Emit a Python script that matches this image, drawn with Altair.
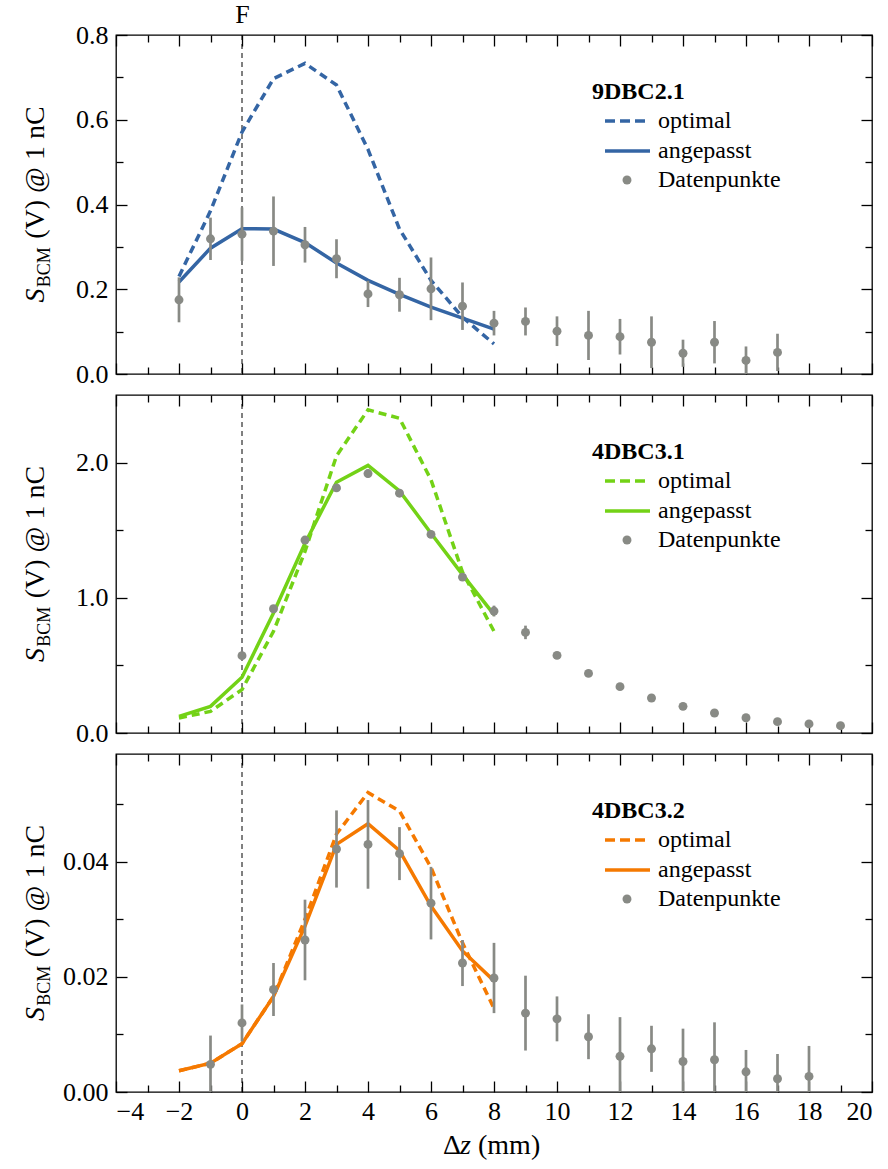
import altair as alt
import pandas as pd

FONT = "Liberation Serif, serif"
BLUE, GREEN, ORANGE, GRAY = "#3465a4", "#73d216", "#f57900", "#888a85"

# ---------------- data ----------------
z_model = [-2, -1, 0, 1, 2, 3, 4, 5, 6, 7, 8]

# 9DBC2.1
opt_1 = [0.230, 0.385, 0.571, 0.697, 0.733, 0.682, 0.530, 0.342, 0.221, 0.134, 0.071]
fit_1 = [0.217, 0.297, 0.343, 0.342, 0.310, 0.262, 0.221, 0.188, 0.158, 0.132, 0.106]
z_1 = [-2, -1, 0, 1, 2, 3, 4, 5, 6, 7, 8, 9, 10, 11, 12, 13, 14, 15, 16, 17]
val_1 = [0.175, 0.319, 0.330, 0.337, 0.305, 0.272, 0.189, 0.187, 0.201, 0.160,
         0.120, 0.124, 0.101, 0.091, 0.088, 0.075, 0.049, 0.075, 0.032, 0.051]
err_1 = [0.053, 0.050, 0.063, 0.082, 0.042, 0.046, 0.031, 0.040, 0.074, 0.056,
         0.029, 0.033, 0.035, 0.058, 0.042, 0.061, 0.032, 0.050, 0.033, 0.044]

# 4DBC3.1
opt_2 = [0.111, 0.160, 0.321, 0.752, 1.343, 2.050, 2.390, 2.328, 1.873, 1.190, 0.752]
fit_2 = [0.123, 0.197, 0.412, 0.887, 1.404, 1.855, 1.979, 1.791, 1.478, 1.171, 0.875]
z_2 = [0, 1, 2, 3, 4, 5, 6, 7, 8, 9, 10, 11, 12, 13, 14, 15, 16, 17, 18, 19]
val_2 = [0.572, 0.919, 1.427, 1.813, 1.919, 1.774, 1.469, 1.153, 0.902, 0.744,
         0.574, 0.441, 0.343, 0.259, 0.197, 0.148, 0.113, 0.084, 0.067, 0.054]
err_2 = [0.010, 0.010, 0.020, 0.015, 0.030, 0.010, 0.010, 0.010, 0.040, 0.050,
         0.010, 0.010, 0.010, 0.010, 0.010, 0.010, 0.010, 0.010, 0.010, 0.010]

# 4DBC3.2
opt_3 = [0.0037, 0.0050, 0.0084, 0.0166, 0.0300, 0.0448, 0.0520, 0.0488, 0.0390, 0.0259, 0.0145]
fit_3 = [0.0037, 0.0050, 0.0084, 0.0166, 0.0288, 0.0430, 0.0466, 0.0419, 0.0323, 0.0245, 0.0193]
z_3 = [-1, 0, 1, 2, 3, 4, 5, 6, 7, 8, 9, 10, 11, 12, 13, 14, 15, 16, 17, 18]
val_3 = [0.0048, 0.0120, 0.0178, 0.0264, 0.0422, 0.0430, 0.0414, 0.0328, 0.0224, 0.0198,
         0.0137, 0.0127, 0.0096, 0.0062, 0.0075, 0.0053, 0.0056, 0.0035, 0.0023, 0.0027]
err_3 = [0.0050, 0.0032, 0.0046, 0.0070, 0.0067, 0.0077, 0.0046, 0.0063, 0.0040, 0.0061,
         0.0065, 0.0039, 0.0039, 0.0068, 0.0040, 0.0057, 0.0065, 0.0038, 0.0043, 0.0053]

x_major = [-4, -2, 0, 2, 4, 6, 8, 10, 12, 14, 16, 18, 20]
x_minor = [-3, -1, 1, 3, 5, 7, 9, 11, 13, 15, 17, 19]

W = 756
MAJ, MIN = 11, 7

xs = alt.Scale(domain=[-4, 20], nice=False, zero=False)


def ax(orient, values, size, labels=False, fmt=None, label_expr=None, pad=6):
    kw = dict(orient=orient, values=values, tickSize=size, offset=-size, domain=False,
              grid=False, labels=labels, ticks=True, title=None, labelPadding=pad)
    if fmt:
        kw["format"] = fmt
    if label_expr:
        kw["labelExpr"] = label_expr
    return alt.Axis(**kw)


def txt(s, x, y, size=24, align="left", baseline="middle", weight=None,
        style=None, angle=0):
    kw = dict(text=s, align=align, baseline=baseline, font=FONT, fontSize=size,
              color="black")
    if weight:
        kw["fontWeight"] = weight
    if style:
        kw["fontStyle"] = style
    if angle:
        kw["angle"] = angle
    return alt.Chart(pd.DataFrame({"a": [0]})).mark_text(**kw).encode(
        x=alt.value(x), y=alt.value(y))


def panel(opt, fit, pz, pv, pe, color, ydom, ymaj, ymin, yfmt, name, H,
          top=False, bottom=False):
    ys = alt.Scale(domain=ydom, nice=False, zero=False)
    dl = pd.DataFrame({"z": z_model, "opt": opt, "fit": fit})
    dp = pd.DataFrame({"z": pz, "v": pv,
                       "lo": [v - e for v, e in zip(pv, pe)],
                       "hi": [v + e for v, e in zip(pv, pe)]})

    vline = alt.Chart(pd.DataFrame({"z": [0]})).mark_rule(
        color="black", strokeWidth=1, strokeDash=[5, 4]).encode(
        x=alt.X("z:Q", scale=xs, axis=None))

    top_maj = ax("top", x_major, MAJ, labels=top,
                 label_expr="datum.value == 0 ? 'F' : ''", pad=8)
    l_opt = alt.Chart(dl).mark_line(color=color, strokeWidth=3.5,
                                    strokeDash=[8, 5], clip=True).encode(
        x=alt.X("z:Q", scale=xs, axis=top_maj),
        y=alt.Y("opt:Q", scale=ys, axis=ax("right", ymaj, MAJ)))
    l_fit = alt.Chart(dl).mark_line(color=color, strokeWidth=3.5, clip=True).encode(
        x=alt.X("z:Q", scale=xs, axis=ax("top", x_minor, MIN)),
        y=alt.Y("fit:Q", scale=ys, axis=ax("right", ymin, MIN)))
    err = alt.Chart(dp).mark_rule(color=GRAY, strokeWidth=2.7, clip=True).encode(
        x=alt.X("z:Q", scale=xs, axis=ax("bottom", x_major, MAJ, labels=bottom, pad=6)),
        y=alt.Y("lo:Q", scale=ys, axis=ax("left", ymaj, MAJ, labels=True, fmt=yfmt, pad=8)),
        y2="hi:Q")
    pts = alt.Chart(dp).mark_circle(color=GRAY, size=80, opacity=1).encode(
        x=alt.X("z:Q", scale=xs, axis=ax("bottom", x_minor, MIN)),
        y=alt.Y("v:Q", scale=ys, axis=ax("left", ymin, MIN)))

    # legend (drawn inside the plot area)
    lx = 476
    leg = [
        txt(name, lx, 57, size=24, weight="bold"),
        alt.Chart(pd.DataFrame({"a": [0]})).mark_rule(
            color=color, strokeWidth=3.5, strokeDash=[10, 5]).encode(
            x=alt.value(lx + 13), x2=alt.value(lx + 55), y=alt.value(86)),
        alt.Chart(pd.DataFrame({"a": [0]})).mark_rule(
            color=color, strokeWidth=3.5).encode(
            x=alt.value(lx + 13), x2=alt.value(lx + 58), y=alt.value(116)),
        alt.Chart(pd.DataFrame({"a": [0]})).mark_circle(
            color=GRAY, size=80, opacity=1).encode(
            x=alt.value(lx + 35), y=alt.value(145)),
        txt("optimal", lx + 66, 86),
        txt("angepasst", lx + 66, 116),
        txt("Datenpunkte", lx + 66, 145),
    ]

    # y title  S_BCM (V) @ 1 nC  (rotated, pieces)
    fs, fsub = 28, 18
    wS, wB, wSp, wR = 0.55 * fs, 2.223 * fsub, 0.3 * fs, 4.726 * fs
    L = wS + wB + wSp + wR
    y0 = H / 2 + L / 2
    bx = -72
    ytitle = [
        txt("S", bx, y0, size=fs, baseline="alphabetic", style="italic", angle=270),
        txt("BCM", bx + 6, y0 - wS, size=fsub, baseline="alphabetic", angle=270),
        txt("(V) @ 1 nC", bx, y0 - wS - wB - wSp, size=fs, baseline="alphabetic", angle=270),
    ]

    layers = [vline, l_opt, l_fit, err, pts] + leg + ytitle
    if bottom:
        xs0 = W / 2 - 51
        layers += [
            txt("Δ", xs0, H + 62, size=28, baseline="alphabetic"),
            txt("z", xs0 + 17, H + 62, size=28, baseline="alphabetic", style="italic"),
            txt("(mm)", xs0 + 35, H + 62, size=28, baseline="alphabetic"),
        ]
    return alt.layer(*layers).resolve_axis(x="independent", y="independent").properties(
        width=W, height=H)


p1 = panel(opt_1, fit_1, z_1, val_1, err_1, BLUE, [0, 0.8],
           [0, 0.2, 0.4, 0.6, 0.8], [0.1, 0.3, 0.5, 0.7], ".1f", "9DBC2.1", 339, top=True)
p2 = panel(opt_2, fit_2, z_2, val_2, err_2, GREEN, [0, 2.5],
           [0, 1, 2], [0.5, 1.5], ".1f", "4DBC3.1", 338)
p3 = panel(opt_3, fit_3, z_3, val_3, err_3, ORANGE, [0, 0.0587],
           [0, 0.02, 0.04], [0.01, 0.03, 0.05], ".2f", "4DBC3.2", 338, bottom=True)

chart = alt.vconcat(p1, p2, p3, spacing=21, bounds="flush").configure_view(
    stroke="black", strokeWidth=1.3
).configure_axis(
    labelFont=FONT, labelFontSize=26, labelColor="black",
    tickColor="black", tickWidth=1.3
).properties(
    padding={"left": 21, "top": 0, "right": 5, "bottom": 5}
)

chart.save("out.html", embed_options={"renderer": "svg", "actions": False})
